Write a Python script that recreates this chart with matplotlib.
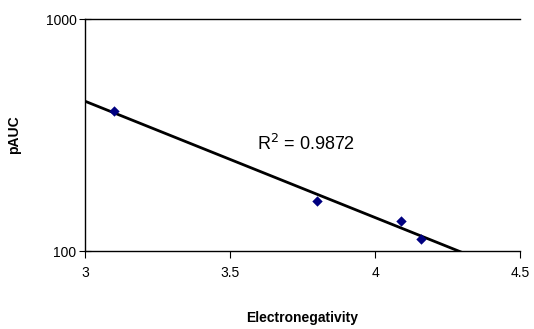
import numpy as np
import matplotlib
matplotlib.use("Agg")
import matplotlib.pyplot as plt
from matplotlib.ticker import FixedLocator, NullLocator, FixedFormatter

plt.rcParams['font.family'] = ['Liberation Sans', 'DejaVu Sans']

electroneg = [3.10, 3.80, 4.09, 4.16]
pauc = [401, 165, 135, 113]
r2_text = "R$^2$ = 0.9872"
x_ticks = [3, 3.5, 4, 4.5]
x_tick_labels = ["3", "3.5", "4", "4.5"]
y_ticks = [100, 1000]
y_tick_labels = ["100", "1000"]

fig = plt.figure(figsize=(5.34, 3.29), dpi=100)
ax = fig.add_axes([0.159, 0.237, 0.815, 0.705])

# exponential trendline fit
slope, intercept = np.polyfit(electroneg, np.log10(pauc), 1)
xs = np.linspace(3, 4.5, 200)
ax.plot(xs, 10 ** (intercept + slope * xs), color='black', lw=2, zorder=2)

ax.scatter(electroneg, pauc, marker='D', s=28, color='#000080', zorder=3, linewidths=0)

ax.set_yscale('log')
ax.set_xlim(3, 4.5)
ax.set_ylim(100, 1000)
ax.yaxis.set_major_locator(FixedLocator(y_ticks))
ax.yaxis.set_major_formatter(FixedFormatter(y_tick_labels))
ax.yaxis.set_minor_locator(NullLocator())
ax.set_xticks(x_ticks)
ax.set_xticklabels(x_tick_labels)

ax.spines['right'].set_visible(False)
for s in ['top', 'left', 'bottom']:
    ax.spines[s].set_linewidth(1)
    ax.spines[s].set_color('black')

ax.tick_params(axis='x', direction='out', length=5, labelsize=10, pad=6)
ax.tick_params(axis='y', direction='inout', length=8, labelsize=10, pad=2)

ax.text(3.592, 272, r2_text, fontsize=13, ha='left', va='baseline')

ax.set_xlabel("Electronegativity", fontsize=10, fontweight='bold', labelpad=22)
ax.set_ylabel("pAUC", fontsize=10, fontweight='bold')
ax.yaxis.set_label_coords(-0.146, 0.5)

fig.savefig("out.png", dpi=100)
